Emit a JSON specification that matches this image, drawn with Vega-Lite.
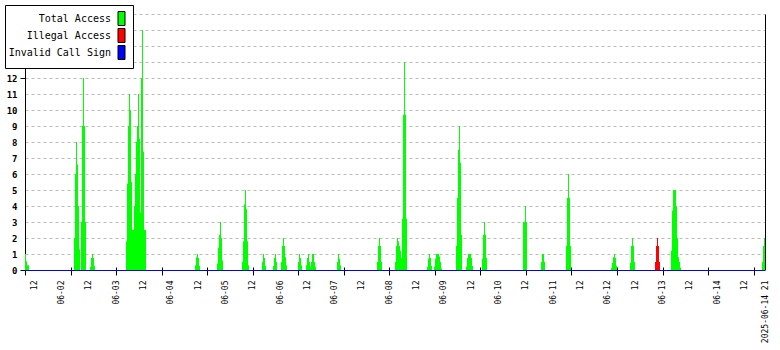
{
  "$schema": "https://vega.github.io/schema/vega-lite/v6.json",
  "width": 740,
  "height": 256,
  "autosize": {"type": "none"},
  "padding": {"left": 25, "top": 14, "right": 15, "bottom": 80},
  "background": "white",
  "config": {"view": {"stroke": null}},
  "datasets": {
    "total": [
      {"t": 8.00, "v": 1.0}, {"t": 8.44, "v": 0.55}, {"t": 8.88, "v": 0.3}, {"t": 9.76, "v": 0},
      {"t": 29.52, "v": 2.0}, {"t": 29.96, "v": 6.0}, {"t": 30.40, "v": 8.0}, {"t": 30.84, "v": 6.6}, {"t": 31.28, "v": 4.0}, {"t": 31.72, "v": 1.3}, {"t": 32.16, "v": 0},
      {"t": 32.59, "v": 3.0}, {"t": 33.03, "v": 9.0}, {"t": 33.47, "v": 12.0}, {"t": 33.91, "v": 9.0}, {"t": 34.35, "v": 3.0}, {"t": 34.79, "v": 0},
      {"t": 36.55, "v": 0.2}, {"t": 36.99, "v": 0.75}, {"t": 37.43, "v": 1.0}, {"t": 37.87, "v": 0.75}, {"t": 38.31, "v": 0.25}, {"t": 38.75, "v": 0},
      {"t": 52.36, "v": 1.8}, {"t": 52.80, "v": 5.4}, {"t": 53.24, "v": 9.0}, {"t": 53.68, "v": 11.0}, {"t": 54.12, "v": 10.0}, {"t": 54.55, "v": 5.5}, {"t": 54.99, "v": 2.5}, {"t": 55.43, "v": 2.5}, {"t": 55.87, "v": 4.0}, {"t": 56.31, "v": 6.0}, {"t": 56.75, "v": 8.0}, {"t": 57.19, "v": 9.0}, {"t": 57.63, "v": 11.0}, {"t": 58.07, "v": 8.2}, {"t": 58.51, "v": 3.6}, {"t": 58.95, "v": 12.0}, {"t": 59.39, "v": 15.0}, {"t": 59.83, "v": 7.4}, {"t": 60.26, "v": 2.5}, {"t": 60.70, "v": 2.5}, {"t": 61.14, "v": 0},
      {"t": 82.66, "v": 0.3}, {"t": 83.10, "v": 0.8}, {"t": 83.54, "v": 1.0}, {"t": 83.98, "v": 0.75}, {"t": 84.42, "v": 0.25}, {"t": 84.86, "v": 0},
      {"t": 92.32, "v": 0.4}, {"t": 92.76, "v": 1.4}, {"t": 93.20, "v": 2.2}, {"t": 93.64, "v": 3.0}, {"t": 94.08, "v": 2.0}, {"t": 94.52, "v": 0.6}, {"t": 94.96, "v": 0},
      {"t": 103.30, "v": 0.5}, {"t": 103.74, "v": 1.8}, {"t": 104.18, "v": 4.1}, {"t": 104.62, "v": 5.0}, {"t": 105.06, "v": 3.8}, {"t": 105.50, "v": 1.8}, {"t": 105.94, "v": 0.3}, {"t": 106.38, "v": 0},
      {"t": 112.09, "v": 0.5}, {"t": 112.53, "v": 1.0}, {"t": 112.97, "v": 0.75}, {"t": 113.41, "v": 0.25}, {"t": 113.85, "v": 0},
      {"t": 116.92, "v": 0.25}, {"t": 117.36, "v": 0.75}, {"t": 117.80, "v": 1.0}, {"t": 118.24, "v": 0.5}, {"t": 118.68, "v": 0},
      {"t": 120.43, "v": 0.5}, {"t": 120.87, "v": 1.5}, {"t": 121.31, "v": 2.0}, {"t": 121.75, "v": 1.5}, {"t": 122.19, "v": 0.8}, {"t": 122.63, "v": 0.3}, {"t": 123.07, "v": 0},
      {"t": 127.90, "v": 0.5}, {"t": 128.34, "v": 1.0}, {"t": 128.78, "v": 0.75}, {"t": 129.22, "v": 0.3}, {"t": 129.66, "v": 0},
      {"t": 131.41, "v": 0.3}, {"t": 131.85, "v": 0.75}, {"t": 132.29, "v": 1.0}, {"t": 132.73, "v": 0.5}, {"t": 133.17, "v": 0.2}, {"t": 133.61, "v": 0.5}, {"t": 134.05, "v": 1.0}, {"t": 134.49, "v": 1.0}, {"t": 134.93, "v": 0.5}, {"t": 135.37, "v": 0.2}, {"t": 135.81, "v": 0},
      {"t": 145.03, "v": 0.5}, {"t": 145.47, "v": 1.0}, {"t": 145.91, "v": 0.7}, {"t": 146.35, "v": 0.3}, {"t": 146.79, "v": 0},
      {"t": 162.59, "v": 0.5}, {"t": 163.03, "v": 1.5}, {"t": 163.47, "v": 2.0}, {"t": 163.91, "v": 1.5}, {"t": 164.35, "v": 0.5}, {"t": 164.79, "v": 0},
      {"t": 170.50, "v": 0.5}, {"t": 170.94, "v": 1.5}, {"t": 171.38, "v": 2.0}, {"t": 171.82, "v": 1.8}, {"t": 172.26, "v": 1.5}, {"t": 172.70, "v": 1.2}, {"t": 173.14, "v": 0.75}, {"t": 173.58, "v": 3.2}, {"t": 174.02, "v": 9.7}, {"t": 174.46, "v": 13.0}, {"t": 174.90, "v": 9.7}, {"t": 175.34, "v": 3.2}, {"t": 175.78, "v": 0},
      {"t": 184.55, "v": 0.2}, {"t": 184.99, "v": 0.7}, {"t": 185.43, "v": 1.0}, {"t": 185.87, "v": 0.75}, {"t": 186.31, "v": 0.25}, {"t": 186.75, "v": 0},
      {"t": 187.63, "v": 0.2}, {"t": 188.07, "v": 0.7}, {"t": 188.51, "v": 1.0}, {"t": 188.95, "v": 1.0}, {"t": 189.39, "v": 1.0}, {"t": 189.83, "v": 0.85}, {"t": 190.27, "v": 0.5}, {"t": 190.71, "v": 0.1}, {"t": 191.15, "v": 0},
      {"t": 197.29, "v": 1.5}, {"t": 197.73, "v": 4.5}, {"t": 198.17, "v": 7.5}, {"t": 198.61, "v": 9.0}, {"t": 199.05, "v": 6.7}, {"t": 199.49, "v": 2.2}, {"t": 199.93, "v": 0},
      {"t": 201.68, "v": 0.2}, {"t": 202.12, "v": 0.75}, {"t": 202.56, "v": 1.0}, {"t": 203.00, "v": 1.0}, {"t": 203.44, "v": 1.0}, {"t": 203.88, "v": 0.75}, {"t": 204.32, "v": 0.25}, {"t": 204.76, "v": 0},
      {"t": 208.71, "v": 0.7}, {"t": 209.15, "v": 2.2}, {"t": 209.59, "v": 3.0}, {"t": 210.03, "v": 2.2}, {"t": 210.47, "v": 0.75}, {"t": 210.91, "v": 0},
      {"t": 226.72, "v": 3.0}, {"t": 227.16, "v": 3.0}, {"t": 227.60, "v": 4.0}, {"t": 228.04, "v": 3.0}, {"t": 228.48, "v": 0},
      {"t": 234.62, "v": 0.5}, {"t": 235.06, "v": 1.0}, {"t": 235.50, "v": 1.0}, {"t": 235.94, "v": 0.5}, {"t": 236.38, "v": 0},
      {"t": 245.60, "v": 1.5}, {"t": 246.04, "v": 4.5}, {"t": 246.48, "v": 6.0}, {"t": 246.92, "v": 4.5}, {"t": 247.36, "v": 1.5}, {"t": 247.80, "v": 0},
      {"t": 265.37, "v": 0.12}, {"t": 265.81, "v": 0.44}, {"t": 266.25, "v": 0.8}, {"t": 266.69, "v": 1.0}, {"t": 267.13, "v": 0.75}, {"t": 267.57, "v": 0.27}, {"t": 268.01, "v": 0},
      {"t": 273.71, "v": 0.44}, {"t": 274.15, "v": 1.5}, {"t": 274.59, "v": 2.0}, {"t": 275.03, "v": 1.5}, {"t": 275.47, "v": 0.5}, {"t": 275.91, "v": 0},
      {"t": 291.72, "v": 1.2}, {"t": 292.16, "v": 3.7}, {"t": 292.60, "v": 5.0}, {"t": 293.04, "v": 5.0}, {"t": 293.48, "v": 5.0}, {"t": 293.92, "v": 4.0}, {"t": 294.36, "v": 2.0}, {"t": 294.80, "v": 0.8}, {"t": 295.24, "v": 0.5}, {"t": 295.68, "v": 0.15}, {"t": 296.12, "v": 0},
      {"t": 331.68, "v": 0.5}, {"t": 332.12, "v": 1.5}, {"t": 332.56, "v": 2.0}, {"t": 333.00, "v": 2.0}
    ],
    "illegal": [
      {"t": 284.69, "v": 0.5}, {"t": 285.13, "v": 1.5}, {"t": 285.57, "v": 2.0}, {"t": 286.01, "v": 1.5}, {"t": 286.45, "v": 0.5}, {"t": 286.89, "v": 0}
    ],
    "invalid": [
      {"t": 8, "v": 0}, {"t": 333, "v": 0}
    ]
  },
  "layer": [
    {
      "data": {"name": "total"},
      "mark": {"type": "area", "interpolate": "step-after", "opacity": 1},
      "encoding": {
        "x": {
          "field": "t", "type": "quantitative",
          "scale": {"domain": [8, 333], "nice": false, "zero": false},
          "axis": {
            "orient": "bottom", "title": null,
            "values": [8, 28, 48, 68, 88, 108, 128, 148, 168, 188, 208, 228, 248, 268, 288, 308, 328],
            "labels": false, "domain": false, "grid": false,
            "ticks": true, "tickSize": 8, "tickColor": "#000000", "tickWidth": 1, "offset": -3
          }
        },
        "y": {
          "field": "v", "type": "quantitative", "stack": null,
          "scale": {"domain": [0, 16], "nice": false, "zero": true},
          "axis": {
            "orient": "left", "title": null,
            "values": [0, 1, 2, 3, 4, 5, 6, 7, 8, 9, 10, 11, 12, 13, 14, 15, 16],
            "labelExpr": "datum.value <= 12 ? datum.value : ''",
            "labelFont": "DejaVu Sans Mono", "labelFontSize": 9, "labelFontWeight": "bold", "labelColor": "#000000", "labelPadding": 3,
            "domainColor": "#000000", "domainWidth": 1,
            "tickColor": "#000000", "tickSize": 5, "tickWidth": 1,
            "tickOpacity": {"condition": {"test": "datum.value == 0 || datum.value == 12", "value": 1}, "value": 0},
            "grid": true, "gridColor": "#bbbbbb", "gridDash": [3, 3], "gridWidth": 1,
            "gridOpacity": {"condition": {"test": "datum.value == 0", "value": 0}, "value": 1}
          }
        },
        "color": {
          "datum": "Total Access", "type": "nominal",
          "scale": {"domain": ["Total Access", "Illegal Access", "Invalid Call Sign"], "range": ["#00ff00", "#ff0000", "#0000ff"]},
          "legend": {
            "orient": "none", "legendX": -20, "legendY": -9, "direction": "vertical",
            "title": null, "fillColor": "#ffffff", "strokeColor": "#000000", "padding": 6, "cornerRadius": 0,
            "symbolType": "M-0.5,-1L0.5,-1L0.5,1L-0.5,1Z", "symbolSize": 196,
            "symbolStrokeColor": "#000000", "symbolStrokeWidth": 1, "symbolOpacity": 1,
            "labelFont": "DejaVu Sans Mono", "labelFontSize": 10, "labelColor": "#000000",
            "labelAlign": "right", "labelOffset": -18, "symbolOffset": 103, "rowPadding": -2,
            "zindex": 2
          }
        }
      }
    },
    {
      "data": {"name": "illegal"},
      "mark": {"type": "area", "interpolate": "step-after", "opacity": 1},
      "encoding": {
        "x": {"field": "t", "type": "quantitative", "scale": {"domain": [8, 333], "nice": false, "zero": false}, "axis": null},
        "y": {"field": "v", "type": "quantitative", "stack": null, "scale": {"domain": [0, 16], "nice": false}, "axis": null},
        "color": {"datum": "Illegal Access", "type": "nominal"}
      }
    },
    {
      "data": {"name": "invalid"},
      "mark": {"type": "line", "strokeWidth": 1, "yOffset": 0.5, "color": "#0000ff"},
      "encoding": {
        "x": {
          "field": "t", "type": "quantitative",
          "scale": {"domain": [8, 333], "nice": false, "zero": false},
          "axis": {
            "orient": "bottom", "title": null,
            "values": [12, 24, 36, 48, 60, 72, 84, 96, 108, 120, 132, 144, 156, 168, 180, 192, 204, 216, 228, 240, 252, 264, 276, 288, 300, 312, 324, 333],
            "labelExpr": "datum.value == 333 ? '2025-06-14 21' : (datum.value % 24 == 12 ? '12' : '06-' + (floor(datum.value / 24) + 1 < 10 ? '0' : '') + (floor(datum.value / 24) + 1))",
            "labelAngle": 270, "labelAlign": "right", "labelBaseline": "middle",
            "labelFont": "DejaVu Sans Mono", "labelFontSize": 8, "labelColor": "#000000",
            "labelPadding": 10, "labelOverlap": false, "labelFlush": false, "labelBound": false,
            "ticks": false, "domain": false, "grid": false
          }
        },
        "y": {
          "field": "v", "type": "quantitative",
          "scale": {"domain": [0, 16], "nice": false},
          "axis": {"orient": "right", "title": null, "labels": false, "ticks": false, "grid": false, "domainColor": "#000000", "domainWidth": 1}
        }
      }
    }
  ],
  "resolve": {"axis": {"x": "independent", "y": "independent"}}
}
